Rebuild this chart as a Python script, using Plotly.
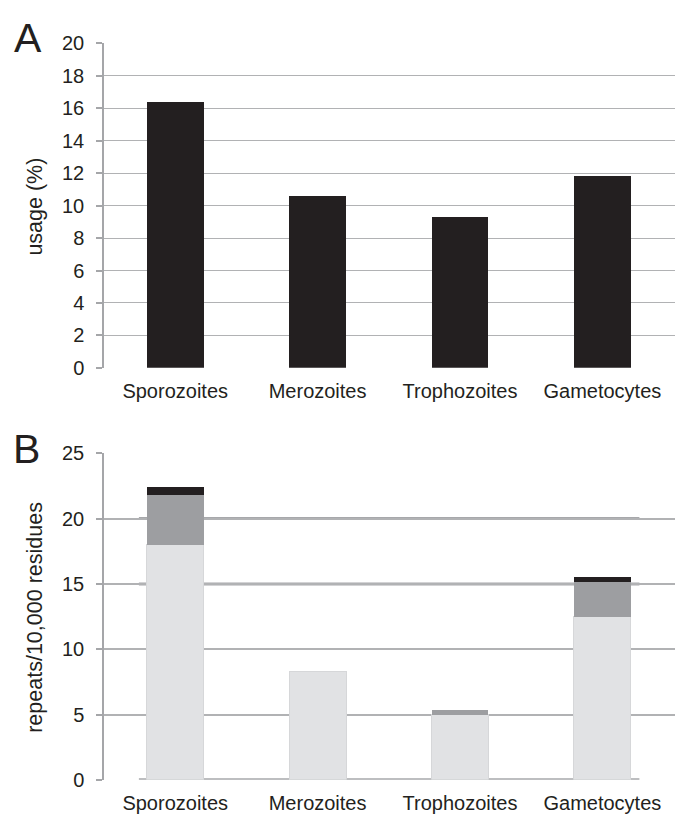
import plotly.graph_objects as go

stages = ["Sporozoites", "Merozoites", "Trophozoites", "Gametocytes"]
usage_pct = [16.4, 10.6, 9.3, 11.85]
repeats_light = [18.0, 8.3, 5.0, 12.5]
repeats_mid = [3.8, 0.0, 0.35, 2.65]
repeats_dark = [0.6, 0.0, 0.0, 0.37]
ticks_a = [0, 2, 4, 6, 8, 10, 12, 14, 16, 18, 20]
ticks_b = [0, 5, 10, 15, 20, 25]
emph_b = [0, 15, 20]

DARK = "#231f20"
MID = "#9d9ea1"
LIGHT = "#e1e2e4"
GRID = "#b1b2b4"
AXIS = "#a5a6a9"
FONT = "Liberation Sans, Arial, sans-serif"

W, H = 675, 821
L = 104

def py(px):
    return 1 - px / H

fig = go.Figure()
fig.add_trace(go.Bar(x=stages, y=usage_pct, marker=dict(color=DARK, line=dict(width=0)),
                     width=0.4, xaxis="x", yaxis="y", showlegend=False))
for vals, col, lw in [(repeats_light, LIGHT, 1), (repeats_mid, MID, 0), (repeats_dark, DARK, 0)]:
    fig.add_trace(go.Bar(x=stages, y=vals,
                         marker=dict(color=col, line=dict(width=lw, color="#d6d7d9")),
                         width=0.4, xaxis="x2", yaxis="y2", showlegend=False))

xcommon = dict(type="category", range=[-0.5, 3.51], showgrid=False, zeroline=False,
               showline=False, ticks="", tickfont=dict(size=20, color=DARK, family=FONT),
               fixedrange=True)
ycommon = dict(showgrid=True, gridcolor=GRID, zeroline=False, showline=True,
               linecolor=AXIS, linewidth=1.5, ticks="outside", ticklen=6, tickcolor=AXIS,
               tickwidth=1.5, tickfont=dict(size=20, color=DARK, family=FONT),
               ticklabelstandoff=8)

fig.update_layout(
    width=W, height=H,
    margin=dict(l=L, r=0, t=0, b=0),
    paper_bgcolor="white", plot_bgcolor="white",
    barmode="stack",
    font=dict(family=FONT, color=DARK),
    xaxis=dict(**xcommon, domain=[0, 1], anchor="y", ticklabelstandoff=9),
    yaxis=dict(**ycommon, domain=[py(366.7), py(33.3)], range=[0, 20], tickvals=ticks_a,
               gridwidth=1.2, anchor="x"),
    xaxis2=dict(**xcommon, domain=[0, 1], anchor="y2", ticklabelstandoff=9),
    yaxis2=dict(**ycommon, domain=[py(790), py(454.5)], range=[0, 25], tickvals=ticks_b,
                gridwidth=1.7, anchor="x2"),
    bargap=0.6,
)

for v in emph_b:
    fig.add_shape(type="line", xref="x2", yref="y2", x0=-0.255, x1=3.26, y0=v, y1=v,
                  line=dict(color="#a7a8ab", width=3), layer="below")

annots = [
    dict(text="A", x=27.5, y=28, size=41, angle=0),
    dict(text="B", x=26, y=450, size=41, angle=0),
    dict(text="usage (%)", x=35, y=201, size=21.5, angle=-90),
    dict(text="repeats/10,000 residues", x=35, y=623.5, size=21.5, angle=-90),
]
for a in annots:
    fig.add_annotation(text=a["text"], xref="paper", yref="paper",
                       x=(a["x"] - L) / (W - L), y=py(a["y"]), xanchor="center", yanchor="middle",
                       showarrow=False, textangle=a["angle"],
                       font=dict(size=a["size"], color=DARK, family=FONT))

fig.write_html("out.html", config={"displayModeBar": False},
               post_script="document.body.style.margin='0';")
